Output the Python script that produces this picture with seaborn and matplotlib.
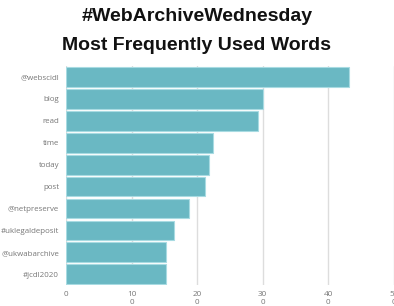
import matplotlib
matplotlib.use("Agg")
import matplotlib.pyplot as plt
import seaborn as sns
import pandas as pd

words = ["@webscidl", "blog", "read", "time", "today", "post",
         "@netpreserve", "#uklegaldeposit", "@ukwabarchive", "#jcdl2020"]
counts = [43.2, 30.0, 29.3, 22.4, 21.8, 21.2, 18.8, 16.4, 15.3, 15.2]
xticks = [0, 10, 20, 30, 40, 50]
xticklabels = ["0", "10\n0", "20\n0", "30\n0", "40\n0", "50\n0"]

df = pd.DataFrame({"word": words, "count": counts})

sns.set_theme(style="white")
plt.rcParams['font.family'] = ['Open Sans', 'DejaVu Sans']

fig = plt.figure(figsize=(3.94, 3.06), dpi=100)
ax = fig.add_axes([0.1675, 0.068, 0.8325, 0.716])

sns.barplot(data=df, x="count", y="word", color="#6ab8c3", saturation=1,
            width=0.9, edgecolor="#a8dbe2", linewidth=0.8, ax=ax, zorder=3)

ax.set_xlim(0, 50)
ax.set_xticks(xticks)
ax.set_xticklabels(xticklabels, fontsize=5.9, color="#777777", linespacing=1.25)
ax.tick_params(axis="y", labelsize=5.7, labelcolor="#777777", length=0, pad=5)
ax.tick_params(axis="x", length=0, pad=4)
for lab in ax.get_xticklabels():
    lab.set_verticalalignment("top")
ax.grid(axis="x", color="#dddddd", linewidth=1, zorder=0)
ax.set_axisbelow(True)
for s in ax.spines.values():
    s.set_visible(False)
ax.set_xlabel("")
ax.set_ylabel("")

fig.text(0.5, 0.945, "#WebArchiveWednesday", ha="center", va="center",
         fontsize=14, fontweight="bold", family="Liberation Sans", color="#111111")
fig.text(0.5, 0.852, "Most Frequently Used Words", ha="center", va="center",
         fontsize=14, fontweight="bold", family="Liberation Sans", color="#111111")

fig.savefig("out.png", dpi=100)
